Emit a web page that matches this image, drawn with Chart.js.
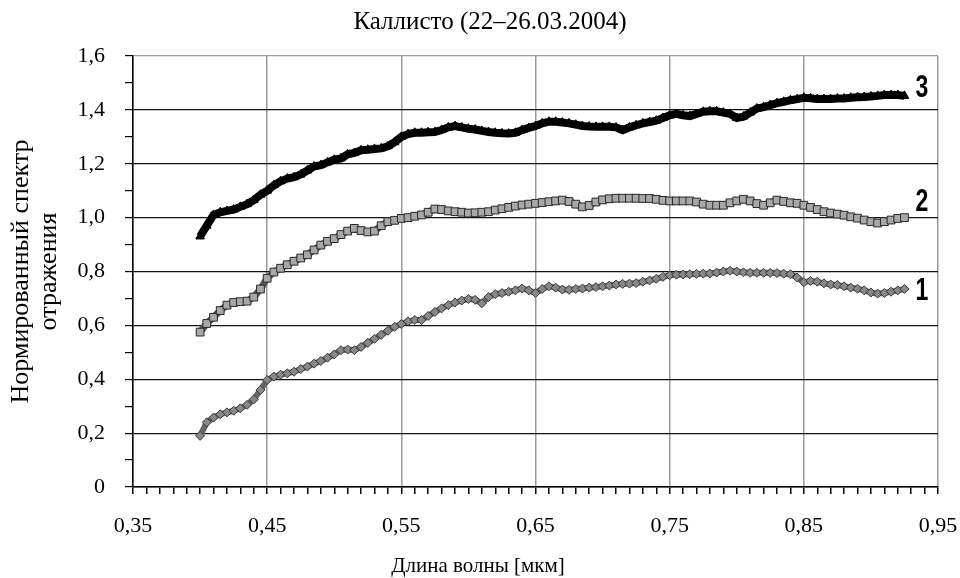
<!DOCTYPE html>
<html>
<head>
<meta charset="utf-8">
<script src="https://cdn.jsdelivr.net/npm/chart.js@4"></script>
<style>
	html, body { margin: 0; padding: 0; background: #fff; }
	#wrap { width: 960px; height: 578px; }
</style>
</head>
<body>
<div id="wrap"><canvas id="cChart" width="960" height="578"></canvas></div>
<script>
const wavelength = [
	0.400, 0.405, 0.410, 0.415, 0.420, 0.425, 0.430, 0.435, 0.440, 0.445,
	0.450, 0.455, 0.460, 0.465, 0.470, 0.475, 0.480, 0.485, 0.490, 0.495,
	0.500, 0.505, 0.510, 0.515, 0.520, 0.525, 0.530, 0.535, 0.540, 0.545,
	0.550, 0.555, 0.560, 0.565, 0.570, 0.575, 0.580, 0.585, 0.590, 0.595,
	0.600, 0.605, 0.610, 0.615, 0.620, 0.625, 0.630, 0.635, 0.640, 0.645,
	0.650, 0.655, 0.660, 0.665, 0.670, 0.675, 0.680, 0.685, 0.690, 0.695,
	0.700, 0.705, 0.710, 0.715, 0.720, 0.725, 0.730, 0.735, 0.740, 0.745,
	0.750, 0.755, 0.760, 0.765, 0.770, 0.775, 0.780, 0.785, 0.790, 0.795,
	0.800, 0.805, 0.810, 0.815, 0.820, 0.825, 0.830, 0.835, 0.840, 0.845,
	0.850, 0.855, 0.860, 0.865, 0.870, 0.875, 0.880, 0.885, 0.890, 0.895,
	0.900, 0.905, 0.910, 0.915, 0.920, 0.925,
];

// кривая 1
const spectrum1 = [
	0.190, 0.240, 0.258, 0.270, 0.277, 0.283, 0.292, 0.305, 0.325, 0.360,
	0.397, 0.410, 0.417, 0.422, 0.428, 0.438, 0.447, 0.458, 0.468, 0.480,
	0.492, 0.508, 0.510, 0.508, 0.520, 0.535, 0.550, 0.565, 0.580, 0.595,
	0.605, 0.615, 0.620, 0.620, 0.635, 0.650, 0.663, 0.675, 0.685, 0.692,
	0.698, 0.695, 0.682, 0.705, 0.716, 0.720, 0.725, 0.730, 0.737, 0.730,
	0.720, 0.735, 0.745, 0.740, 0.733, 0.732, 0.735, 0.737, 0.740, 0.742,
	0.745, 0.748, 0.752, 0.754, 0.755, 0.757, 0.762, 0.767, 0.773, 0.780,
	0.786, 0.788, 0.789, 0.790, 0.791, 0.792, 0.793, 0.796, 0.800, 0.803,
	0.800, 0.797, 0.795, 0.795, 0.795, 0.795, 0.794, 0.792, 0.790, 0.778,
	0.760, 0.765, 0.762, 0.756, 0.752, 0.750, 0.745, 0.740, 0.736, 0.730,
	0.722, 0.718, 0.720, 0.725, 0.730, 0.735,
];

// кривая 2
const spectrum2 = [
	0.575, 0.607, 0.630, 0.655, 0.675, 0.685, 0.688, 0.690, 0.705, 0.735,
	0.775, 0.798, 0.812, 0.825, 0.838, 0.850, 0.862, 0.880, 0.898, 0.912,
	0.922, 0.937, 0.950, 0.960, 0.952, 0.947, 0.950, 0.970, 0.985, 0.990,
	0.997, 1.000, 1.005, 1.010, 1.020, 1.032, 1.030, 1.025, 1.022, 1.020,
	1.017, 1.018, 1.020, 1.022, 1.028, 1.033, 1.038, 1.043, 1.047, 1.050,
	1.053, 1.056, 1.059, 1.062, 1.065, 1.060, 1.050, 1.040, 1.045, 1.058,
	1.066, 1.070, 1.072, 1.072, 1.072, 1.072, 1.071, 1.071, 1.068, 1.064,
	1.062, 1.062, 1.062, 1.062, 1.058, 1.050, 1.046, 1.046, 1.046, 1.055,
	1.062, 1.068, 1.062, 1.052, 1.046, 1.055, 1.065, 1.060, 1.055, 1.053,
	1.046, 1.038, 1.030, 1.022, 1.017, 1.013, 1.009, 1.003, 0.998, 0.991,
	0.985, 0.980, 0.985, 0.991, 0.997, 1.000,
];

// кривая 3
const spectrum3 = [
	0.930, 0.970, 1.010, 1.020, 1.025, 1.030, 1.040, 1.050, 1.065, 1.085,
	1.100, 1.120, 1.135, 1.145, 1.150, 1.160, 1.175, 1.190, 1.195, 1.205,
	1.215, 1.220, 1.235, 1.240, 1.250, 1.252, 1.255, 1.257, 1.265, 1.280,
	1.300, 1.310, 1.315, 1.315, 1.317, 1.318, 1.325, 1.335, 1.340, 1.335,
	1.330, 1.327, 1.322, 1.318, 1.315, 1.313, 1.312, 1.315, 1.325, 1.333,
	1.340, 1.350, 1.356, 1.356, 1.353, 1.350, 1.345, 1.340, 1.338, 1.337,
	1.337, 1.337, 1.335, 1.325, 1.335, 1.343, 1.350, 1.355, 1.360, 1.370,
	1.380, 1.385, 1.380, 1.377, 1.385, 1.393, 1.395, 1.395, 1.390, 1.385,
	1.370, 1.375, 1.390, 1.405, 1.410, 1.418, 1.425, 1.430, 1.436, 1.440,
	1.445, 1.443, 1.440, 1.440, 1.440, 1.442, 1.442, 1.445, 1.447, 1.448,
	1.450, 1.452, 1.455, 1.455, 1.455, 1.452,
];

// подписи кривых справа
const curveNames = ["1", "2", "3"];
const curveNameX = [0.938, 0.938, 0.938];
const curveNameY = [0.728, 1.059, 1.479];

const chartTitle = "Каллисто (22–26.03.2004)";
const xTitle = "Длина волны [мкм]";
const yTitle = ["Нормированный спектр", "отражения"];

const toPoints = (vals) => vals.map((v, i) => ({ x: wavelength[i], y: v }));
const serif = "'Liberation Serif', 'Times New Roman', serif";

const captions = {
	id: "captions",
	afterDraw(chart) {
		const c = chart.ctx;
		const xs = chart.scales.x;
		const ys = chart.scales.y;
		c.save();
		c.fillStyle = "#000";
		c.textAlign = "center";
		c.textBaseline = "middle";
		c.font = "25px " + serif;
		c.fillText(chartTitle, 490, 22);
		c.font = "21px " + serif;
		c.fillText(xTitle, 478, 566);
		c.font = "bold 32px 'Liberation Sans Narrow', 'Liberation Sans', sans-serif";
		curveNames.forEach((n, i) => {
			c.save();
			c.translate(xs.getPixelForValue(curveNameX[i]), ys.getPixelForValue(curveNameY[i]));
			c.scale(0.72, 1);
			c.fillText(n, 0, 0);
			c.restore();
		});
		c.restore();
	},
};

const ctx = document.getElementById("cChart");
const myChart = new Chart(ctx, {
	type: "line",
	data: {
		datasets: [
			{
				label: "1",
				data: toPoints(spectrum1),
				borderColor: "#666",
				borderWidth: 6,
				pointStyle: "rectRot",
				pointRadius: 4.5,
				pointBackgroundColor: "#888",
				pointBorderColor: "#3a3a3a",
				pointBorderWidth: 1,
			},
			{
				label: "2",
				data: toPoints(spectrum2),
				borderColor: "#555",
				borderWidth: 7,
				pointStyle: "rect",
				pointRadius: 5.5,
				pointBackgroundColor: "#a8a8a8",
				pointBorderColor: "#2a2a2a",
				pointBorderWidth: 1,
			},
			{
				label: "3",
				data: toPoints(spectrum3),
				borderColor: "#000",
				borderWidth: 8,
				pointStyle: "triangle",
				pointRadius: 5,
				pointBackgroundColor: "#000",
				pointBorderColor: "#000",
				pointBorderWidth: 1,
			},
		],
	},
	options: {
		responsive: false,
		animation: false,
		layout: {
			padding: { top: 56, right: 22, left: 0, bottom: 0 },
		},
		plugins: {
			legend: { display: false },
			tooltip: { enabled: false },
		},
		scales: {
			x: {
				type: "linear",
				min: 0.35,
				max: 0.95,
				afterFit: (s) => {
					s.height = 91;
					s.paddingLeft = 0;
					s.paddingRight = 0;
				},
				border: { color: "#000", width: 1.5 },
				grid: {
					color: (c) => (Math.round(c.tick.value * 100) % 10 === 5 ? "#999" : "rgba(0,0,0,0)"),
					lineWidth: 1.5,
					tickColor: "#000",
					tickLength: 7,
				},
				ticks: {
					stepSize: 0.01,
					autoSkip: false,
					maxRotation: 0,
					padding: 19,
					color: "#000",
					font: { family: serif, size: 22 },
					callback: (v) => (Math.round(v * 100) % 10 === 5 ? v.toFixed(2).replace(".", ",") : ""),
				},
			},
			y: {
				min: 0,
				max: 1.6,
				afterFit: (s) => {
					s.width = 133;
					s.paddingTop = 0;
					s.paddingBottom = 0;
				},
				border: { color: "#000", width: 1.5 },
				grid: {
					color: (c) => {
						const k = Math.round(c.tick.value * 10);
						if (k === 16) return "#999";
						return k % 2 === 0 ? "#111" : "rgba(0,0,0,0)";
					},
					lineWidth: 1.2,
					tickColor: "#000",
					tickLength: 8,
				},
				ticks: {
					stepSize: 0.1,
					autoSkip: false,
					padding: 20,
					color: "#000",
					font: { family: serif, size: 22 },
					callback: (v) => {
						const k = Math.round(v * 10);
						if (k % 2 !== 0) return "";
						return k === 0 ? "0" : (k / 10).toFixed(1).replace(".", ",");
					},
				},
				title: {
					display: true,
					text: yTitle,
					color: "#000",
					font: { family: serif, size: 26, lineHeight: 1.05 },
					padding: { top: 8, bottom: 0 },
				},
			},
		},
	},
	plugins: [captions],
});
</script>
</body>
</html>
